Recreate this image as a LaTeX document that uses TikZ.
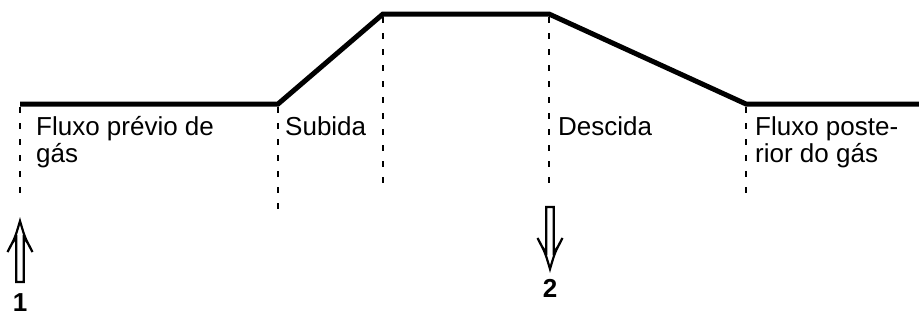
\documentclass[tikz,border=0pt]{standalone}
\usepackage{fontspec}
\setmainfont{Liberation Sans}
\begin{document}
\begin{tikzpicture}[x=1pt,y=-1pt,
  profile/.style={line width=5pt},
  marker/.style={line width=2pt, dash pattern=on 6pt off 10pt},
  phase/.style={anchor=base west, inner sep=0pt, align=left,
    font=\fontsize{26}{27}\selectfont},
  signal/.style={line width=2.2pt, line join=miter, fill=white},
  num/.style={anchor=base, inner sep=0pt, font=\fontsize{26}{28}\selectfont\bfseries},
  % hollow double-shafted arrow, tip at the origin, pointing towards -y (up);
  % #1 is the shaft length below the tip
  pics/hollowarrow/.style={code={
    \draw[signal] (-3.8,#1) -- (-3.8,17) .. controls (-8,22) .. (-12.5,31)
      .. controls (-5,17) .. (0,0) .. controls (5,17) .. (12.5,31)
      .. controls (8,22) .. (3.8,17) -- (3.8,#1) -- cycle;
  }}]
  \useasboundingbox (0,0) rectangle (919,322);

  % corner points of the gas-flow profile
  \coordinate (p0) at (20,104);
  \coordinate (p1) at (278,104);
  \coordinate (p2) at (383,14);
  \coordinate (p3) at (549,14);
  \coordinate (p4) at (746,104);
  \coordinate (p5) at (919,104);
  \draw[profile] (p0) -- (p1) -- (p2) -- (p3) -- (p4) -- (p5);

  % phase boundaries
  \coordinate (q0) at (20,200);
  \coordinate (q1) at (278,210);
  \coordinate (q2) at (383,188);
  \coordinate (q3) at (549,186);
  \coordinate (q4) at (746,196);
  \draw[marker] ([yshift=-3pt]p0) -- (q0);
  \draw[marker] ([yshift=-3pt]p1) -- (q1);
  \draw[marker] ([yshift=-3pt]p2) -- (q2);
  \draw[marker] ([yshift=-3pt]p3) -- (q3);
  \draw[marker] ([yshift=-3pt]p4) -- (q4);

  % phase names (multi-line nodes sit on the baseline of their last line)
  \node[phase] (t0) at (36,162) {Fluxo prévio de\\gás};
  \node[phase] (t1) at (285,135) {Subida};
  \node[phase] (t3) at (558,135) {Descida};
  \node[phase] (t4) at (755,162) {Fluxo poste-\\rior do gás};

  % start and stop signals
  \coordinate (a1) at (20,221);
  \coordinate (a2) at (550,269);
  \pic at (a1) {hollowarrow=61};
  \pic[yscale=-1] at (a2) {hollowarrow=62};
  \node[num] (n1) at (20,311) {1};
  \node[num] (n2) at (550,297) {2};
\end{tikzpicture}
\end{document}
